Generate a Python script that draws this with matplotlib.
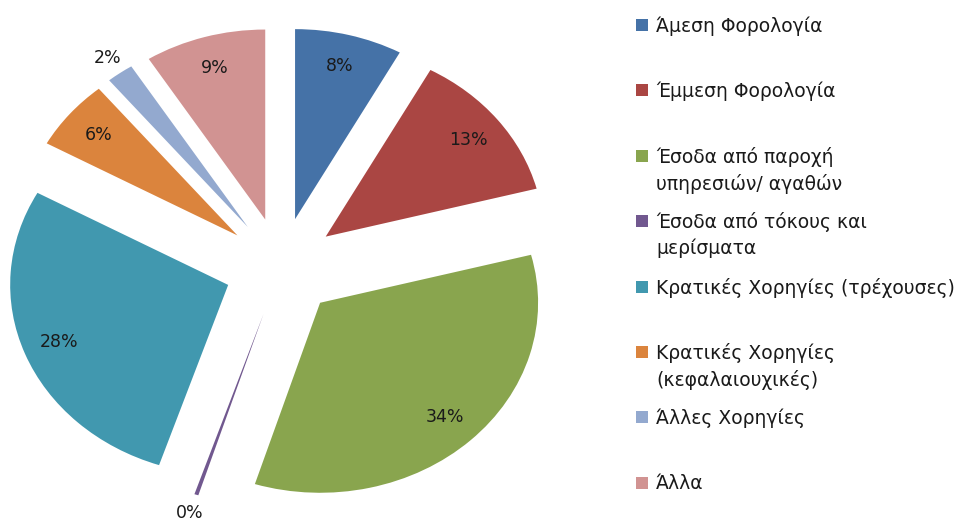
import matplotlib

matplotlib.use("Agg")

import matplotlib.pyplot as plt
import numpy as np
from matplotlib.patches import Rectangle

CATEGORIES = [
    "Άμεση Φορολογία",
    "Έμμεση Φορολογία",
    "Έσοδα από παροχή\nυπηρεσιών/ αγαθών",
    "Έσοδα από τόκους και\nμερίσματα",
    "Κρατικές Χορηγίες (τρέχουσες)",
    "Κρατικές Χορηγίες\n(κεφαλαιουχικές)",
    "Άλλες Χορηγίες",
    "Άλλα",
]
SHARES = [8.0, 13.0, 34.0, 0.3, 28.0, 6.0, 2.0, 9.0]
COLORS = ["#4572A7", "#AA4643", "#89A54E", "#71588F",
          "#4198AF", "#DB843D", "#93A9CF", "#D19392"]

plt.rcParams["font.family"] = ["DejaVu Sans"]

W, H = 971, 523
fig = plt.figure(figsize=(W / 100, H / 100), dpi=100)
fig.patch.set_facecolor("white")

# pie is a little wider than tall in the reference
RX, RY = 218.0, 190.0
CX, CY = 281.0, 267.0
ax = fig.add_axes([0, 0, 1, 1])
wedges, _ = ax.pie(SHARES, colors=COLORS, startangle=90, counterclock=False,
                   explode=[0.26] * len(SHARES),
                   wedgeprops=dict(linewidth=0, edgecolor="none"))
ax.set_aspect("auto")
ax.set_xlim(-CX / RX, (W - CX) / RX)
ax.set_ylim(-(H - CY) / RY, CY / RY)
ax.axis("off")

total = sum(SHARES)
for w, v in zip(wedges, SHARES):
    mid = np.deg2rad((w.theta1 + w.theta2) / 2)
    pct = 100.0 * v / total
    r = 0.83 if pct > 3 else 1.10
    cx, cy = w.center
    ax.text(cx + r * np.cos(mid), cy + r * np.sin(mid), "%d%%" % round(pct),
            ha="center", va="center", fontsize=12.5, color="#1a1a1a")

# legend, Excel-like spacing
y0, step = 25.0, 65.4
for i, (lab, col) in enumerate(zip(CATEGORIES, COLORS)):
    yy = y0 + i * step
    fig.patches.append(Rectangle((636 / W, 1 - (yy + 6) / H), 12 / W, 12 / H,
                                 transform=fig.transFigure, facecolor=col,
                                 edgecolor="none"))
    fig.text(656 / W, 1 - (yy - 9) / H, lab, ha="left", va="top",
             fontsize=13.5, color="#1a1a1a", linespacing=1.42)

fig.savefig("out.png", dpi=100, facecolor="white")
